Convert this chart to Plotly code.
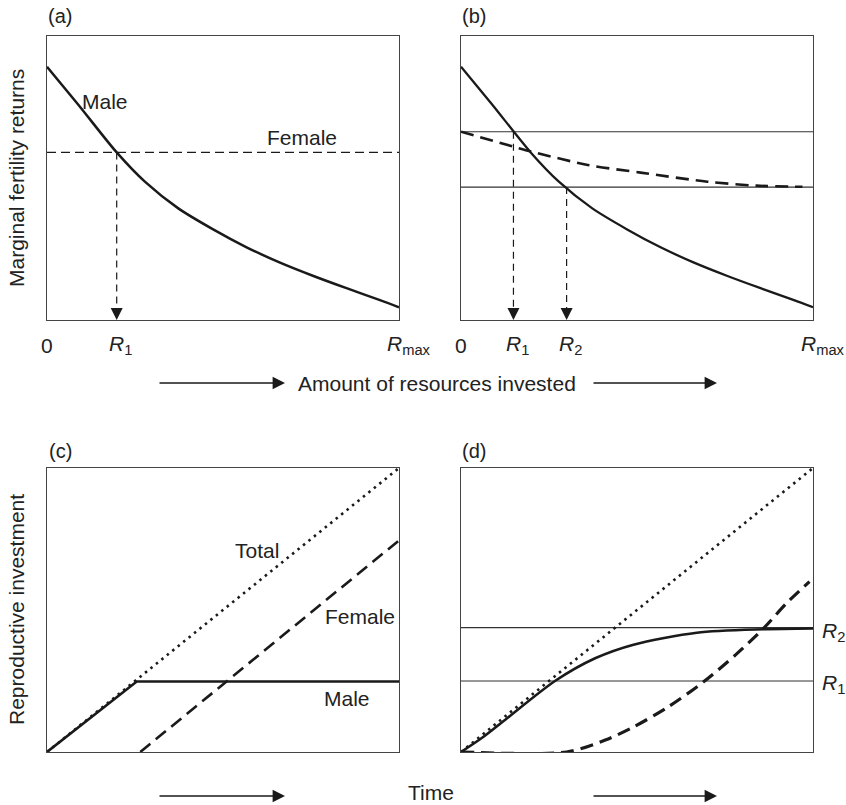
import plotly.graph_objects as go

# ---------------- data (unit axes 0..1 in every panel) ----------------
# Panel (a)/(b): male marginal fertility returns (solid curve)
male_x = [0, 0.089, 0.198, 0.278, 0.373, 0.472, 0.567, 0.662, 0.757, 0.851, 0.946, 1.0]
male_y = [0.892, 0.758, 0.590, 0.487, 0.393, 0.319, 0.256, 0.202, 0.155, 0.112, 0.070, 0.045]
# Panel (a): female constant returns
female_a_level = 0.59
R1_a = 0.198
# Panel (b): female diminishing returns (dashed) and two thresholds
female_b_x = [0, 0.15, 0.2, 0.36, 0.51, 0.70, 0.84, 0.97]
female_b_y = [0.663, 0.61, 0.593, 0.546, 0.519, 0.487, 0.473, 0.469]
level_b_hi = 0.663
level_b_lo = 0.468
R1_b = 0.149
R2_b = 0.300
# Panel (c)
total_x = [0, 1]
total_y = [0, 1]
male_c_x = [0, 0.255, 1]
male_c_y = [0, 0.248, 0.248]
female_c_x = [0.265, 1]
female_c_y = [0, 0.745]
# Panel (d)
male_d_x = [0, 0.06, 0.125, 0.267, 0.381, 0.49, 0.67, 0.86, 1.0]
male_d_y = [0, 0.05, 0.113, 0.25, 0.33, 0.378, 0.42, 0.432, 0.435]
female_d_x = [0, 0.3, 0.41, 0.49, 0.59, 0.69, 0.78, 0.86, 0.925, 0.99]
female_d_y = [0, 0, 0.042, 0.088, 0.16, 0.248, 0.342, 0.436, 0.524, 0.60]
R1_d = 0.25
R2_d = 0.438

FONT = "Liberation Sans, Arial, sans-serif"
INK = "#1a1a1a"
BOX = "#444444"
W, H = 846, 805

fig = go.Figure()

def line(xs, ys, ax, width=2.4, dash=None, color=INK, shape="linear", smoothing=0.8):
    fig.add_trace(go.Scatter(
        x=xs, y=ys, mode="lines", xaxis="x" + ax, yaxis="y" + ax,
        line=dict(color=color, width=width, dash=dash, shape=shape,
                  smoothing=smoothing if shape == "spline" else None),
        hoverinfo="skip", showlegend=False))

# axis naming: '' -> a, '2' -> b, '3' -> c, '4' -> d
A, B, C, D = "", "2", "3", "4"

# (a)
line([0, 1], [female_a_level, female_a_level], A, width=1.3, dash="9px,5px")
line([R1_a, R1_a], [female_a_level, 0.03], A, width=1.2, dash="7px,5px")
line(male_x, male_y, A, width=2.5, shape="spline")

# (b)
line([0, 1], [level_b_hi, level_b_hi], B, width=1.1, color="#333333")
line([0, 1], [level_b_lo, level_b_lo], B, width=1.1, color="#333333")
line([R1_b, R1_b], [level_b_hi, 0.03], B, width=1.2, dash="7px,5px")
line([R2_b, R2_b], [level_b_lo, 0.03], B, width=1.2, dash="7px,5px")
line(female_b_x, female_b_y, B, width=2.6, dash="13px,7px", shape="spline")
line(male_x, male_y, B, width=2.3, shape="spline")

# (c)
line(total_x, total_y, C, width=2.6, dash="2.5px,4.5px")
line(female_c_x, female_c_y, C, width=2.6, dash="13px,7px")
line(male_c_x, male_c_y, C, width=2.6)

# (d)
line([0, 1], [R2_d, R2_d], D, width=1.1, color="#333333")
line([0, 1], [R1_d, R1_d], D, width=1.1, color="#333333")
line(total_x, total_y, D, width=2.6, dash="2.5px,4.5px")
line(female_d_x, female_d_y, D, width=3.2, dash="13px,7px", shape="spline")
line(male_d_x, male_d_y, D, width=2.6, shape="spline")

# ---------------- layout ----------------
def px2x(p):
    return p / W

def px2y(p):
    return 1 - p / H

doms = {
    A: ([47, 399], [36, 320]),
    B: ([461, 813], [36, 320]),
    C: ([47, 399], [468, 752]),
    D: ([461, 813], [468, 752]),
}
layout = dict(width=W, height=H, margin=dict(l=0, r=0, t=0, b=0),
              paper_bgcolor="white", plot_bgcolor="white", showlegend=False,
              font=dict(family=FONT, size=21, color="#222222"))
for k, (xd, yd) in doms.items():
    axcommon = dict(range=[0, 1], showgrid=False, zeroline=False, showticklabels=False,
                    ticks="", showline=True, mirror=True, linecolor=BOX, linewidth=1.2,
                    fixedrange=True)
    layout["xaxis" + k] = dict(domain=[px2x(xd[0]), px2x(xd[1])], anchor="y" + k, **axcommon)
    layout["yaxis" + k] = dict(domain=[px2y(yd[1]), px2y(yd[0])], anchor="x" + k, **axcommon)
fig.update_layout(**layout)

ann = []

def txt(text, x, y, ax=None, size=21, xanchor="center", yanchor="middle", xshift=0, yshift=0,
        xref=None, yref=None, angle=0):
    ann.append(dict(text=text, x=x, y=y, showarrow=False,
                    xref=xref or ("x" + ax), yref=yref or ("y" + ax),
                    xanchor=xanchor, yanchor=yanchor, xshift=xshift, yshift=yshift,
                    textangle=angle, font=dict(family=FONT, size=size, color="#222222")))

def head(x, y, ax, length=12):
    ann.append(dict(text="", x=x, y=y, xref="x" + ax, yref="y" + ax, showarrow=True,
                    ax=0, ay=-length, arrowhead=2, arrowsize=2.0, arrowwidth=1.2,
                    arrowcolor=INK))

# panel letters
txt("(a)", px2x(60), px2y(16), xref="paper", yref="paper", size=20)
txt("(b)", px2x(474), px2y(16), xref="paper", yref="paper", size=20)
txt("(c)", px2x(60), px2y(451), xref="paper", yref="paper", size=20)
txt("(d)", px2x(474), px2y(451), xref="paper", yref="paper", size=20)

# y titles
txt("Marginal fertility returns", px2x(16), px2y(178), xref="paper", yref="paper", angle=-90)
txt("Reproductive investment", px2x(16), px2y(610), xref="paper", yref="paper", angle=-90)

# curve labels
txt("Male", 0.165, 0.768, A)
txt("Female", 0.724, 0.641, A)
txt("Total", 0.597, 0.711, C)
txt("Female", 0.889, 0.476, C)
txt("Male", 0.852, 0.190, C)
txt("<i>R</i><sub>2</sub>", 1, R2_d, D, xanchor="left", xshift=7, yshift=-4)
txt("<i>R</i><sub>1</sub>", 1, R1_d, D, xanchor="left", xshift=7, yshift=-3)

# x tick-like labels for (a) and (b)
ty = px2y(345)
txt("0", 0, ty, xref="x", yref="paper")
txt("<i>R</i><sub>1</sub>", R1_a, ty, xref="x", yref="paper", xshift=4)
txt("<i>R</i><sub>max</sub>", 1, ty, xref="x", yref="paper", xshift=10)
txt("0", 0, ty, xref="x2", yref="paper")
txt("<i>R</i><sub>1</sub>", R1_b, ty, xref="x2", yref="paper", xshift=4)
txt("<i>R</i><sub>2</sub>", R2_b, ty, xref="x2", yref="paper", xshift=4)
txt("<i>R</i><sub>max</sub>", 1, ty, xref="x2", yref="paper", xshift=10)

# arrowheads on the dashed drop lines
head(R1_a, 0, A)
head(R1_b, 0, B)
head(R2_b, 0, B)

# bottom captions with long arrows
txt("Amount of resources invested", px2x(437), px2y(383), xref="paper", yref="paper")
txt("Time", px2x(431), px2y(792), xref="paper", yref="paper")
for (x0, x1, yy) in [(158, 285, 383), (592, 717, 383), (158, 285, 796), (592, 717, 796)]:
    ann.append(dict(text="", x=px2x(x1), y=px2y(yy), xref="paper", yref="paper",
                    showarrow=True, ax=-(x1 - x0), ay=0, arrowhead=2, arrowsize=1.9,
                    arrowwidth=1.3, arrowcolor=INK))

fig.update_layout(annotations=ann)
fig.write_html("out.html", config={"displayModeBar": False},
               post_script="document.body.style.margin='0';document.body.style.overflow='hidden';")
